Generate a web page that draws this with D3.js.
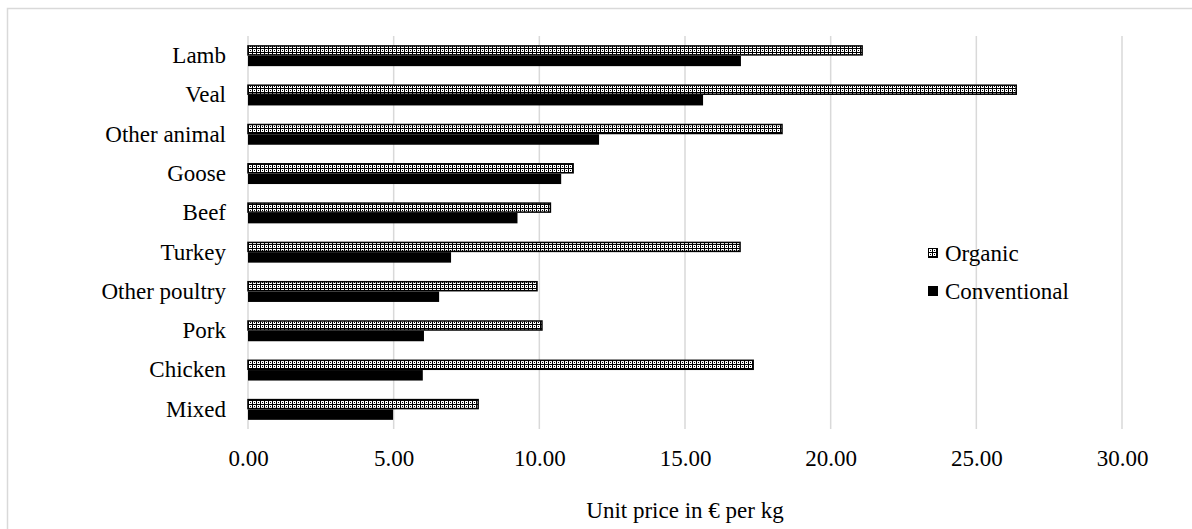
<!DOCTYPE html>
<html>
<head>
<meta charset="utf-8">
<script src="https://cdn.jsdelivr.net/npm/d3@7"></script>
<style>
  html, body { margin: 0; padding: 0; background: #fff; }
  svg { display: block; }
  svg text { font-family: "Liberation Serif", "Times New Roman", Times, serif !important; fill: #000; }
</style>
</head>
<body>
<svg id="chart" width="1192" height="529"></svg>
<script>
// Meat categories, top to bottom
const categories = ["Lamb", "Veal", "Other animal", "Goose", "Beef", "Turkey",
                    "Other poultry", "Pork", "Chicken", "Mixed"];
// Unit price in € per kg
const organic      = [21.08, 26.37, 18.33, 11.16, 10.38, 16.89, 9.92, 10.09, 17.34, 7.90];
const conventional = [16.92, 15.62, 12.05, 10.75, 9.25, 6.97, 6.56, 6.04, 6.00, 4.98];
const seriesNames = ["Organic", "Conventional"];
const xTicks = [0, 5, 10, 15, 20, 25, 30];
const axisTitle = "Unit price in € per kg";

const svg = d3.select("#chart");
const W = 1192, H = 529;
const plotLeft = 248, plotRight = 1122, plotTop = 36, plotBottom = 429;
const fontSize = 23;

// outer chart frame
svg.append("rect")
  .attr("x", 7.5).attr("y", 8.5)
  .attr("width", W + 20).attr("height", H + 20)
  .attr("fill", "#fff").attr("stroke", "#d9d9d9").attr("stroke-width", 1.5);

// dotted fill for organic bars
const defs = svg.append("defs");
const pat = defs.append("pattern")
  .attr("id", "dotgrid").attr("patternUnits", "userSpaceOnUse")
  .attr("width", 4).attr("height", 4);
pat.append("rect").attr("width", 4).attr("height", 4).attr("fill", "#000");
pat.append("rect").attr("x", 1).attr("y", 1).attr("width", 3).attr("height", 3).attr("fill", "#fff");
pat.append("rect").attr("x", 2).attr("y", 2).attr("width", 1).attr("height", 1).attr("fill", "#000");

const x = d3.scaleLinear().domain([0, 30]).range([plotLeft, plotRight]);
const y = d3.scaleBand().domain(categories).range([plotTop, plotBottom])
  .paddingInner(0.466).paddingOuter(0.233);
const ySub = d3.scaleBand().domain(seriesNames).range([0, y.bandwidth()]);

// vertical gridlines
svg.append("g").selectAll("line").data(xTicks).join("line")
  .attr("x1", d => x(d)).attr("x2", d => x(d))
  .attr("y1", plotTop).attr("y2", plotBottom)
  .attr("stroke", "#d9d9d9").attr("stroke-width", 1.5);

// x axis tick labels
const xAxis = d3.axisBottom(x).tickValues(xTicks).tickSize(0).tickPadding(0)
  .tickFormat(d3.format(".2f"));
const gx = svg.append("g").attr("transform", `translate(0,${plotBottom + 21})`).call(xAxis);
gx.attr("font-family", null).attr("font-size", null);
gx.select(".domain").remove();
gx.selectAll("text").attr("font-size", fontSize).attr("fill", "#000");

// category labels
const yAxis = d3.axisLeft(y).tickSize(0).tickPadding(0);
const gy = svg.append("g").attr("transform", `translate(${plotLeft - 22},0)`).call(yAxis);
gy.attr("font-family", null).attr("font-size", null);
gy.select(".domain").remove();
gy.selectAll("text").attr("font-size", fontSize).attr("fill", "#000");

// bars
const rows = categories.map((c, i) => ({ c, organic: organic[i], conventional: conventional[i] }));
const g = svg.append("g");
g.selectAll("rect.org").data(rows).join("rect").attr("class", "org")
  .attr("x", x(0)).attr("y", d => y(d.c) + ySub("Organic") + 0.75)
  .attr("width", d => x(d.organic) - x(0)).attr("height", ySub.bandwidth() - 1.5)
  .attr("fill", "url(#dotgrid)").attr("stroke", "#000").attr("stroke-width", 1.5);
g.selectAll("rect.conv").data(rows).join("rect").attr("class", "conv")
  .attr("x", x(0)).attr("y", d => y(d.c) + ySub("Conventional"))
  .attr("width", d => x(d.conventional) - x(0)).attr("height", ySub.bandwidth())
  .attr("fill", "#000");

// legend
const lg = svg.append("g").attr("transform", "translate(928,0)");
seriesNames.forEach((s, i) => {
  const cy = 253 + i * 38;
  lg.append("rect").attr("x", 0.5).attr("y", cy - 4.5).attr("width", 9).attr("height", 9)
    .attr("fill", i === 0 ? "url(#dotgrid)" : "#000")
    .attr("stroke", "#000").attr("stroke-width", 1);
  lg.append("text").attr("x", 17).attr("y", cy).attr("dy", "0.35em")
    .attr("font-size", fontSize).text(s);
});

// axis title
svg.append("text").attr("x", (plotLeft + plotRight) / 2).attr("y", 510).attr("dy", "0.35em")
  .attr("text-anchor", "middle").attr("font-size", fontSize).text(axisTitle);
</script>
</body>
</html>
